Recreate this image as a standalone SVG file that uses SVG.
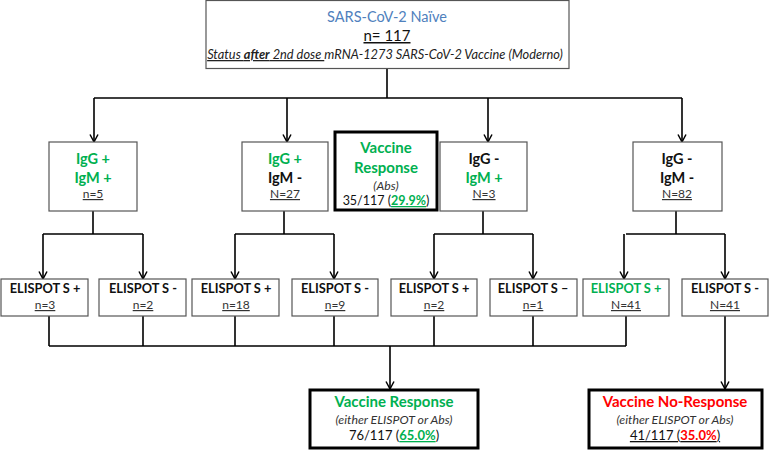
<svg xmlns="http://www.w3.org/2000/svg" width="777" height="450" viewBox="0 0 777 450">
<style>
text{font-family:Lato,"Carlito","Open Sans",sans-serif;text-anchor:middle;fill:#111}
.box{fill:#fff;stroke:#555;stroke-width:1.2}
.thick{fill:#fff;stroke:#000;stroke-width:3}
.con{fill:none;stroke:#000;stroke-width:1.6}
.t{font-size:14.5px;font-weight:bold}
.n{font-size:12px;text-decoration:underline;fill:#333}
.e{font-size:12.8px;font-weight:bold}
.g{fill:#00b050}
.r{fill:#ff0000}
.it{font-style:italic;font-size:12.3px;fill:#333}
</style>
<defs>
<marker id="ar" markerWidth="10" markerHeight="10" refX="8" refY="4.5" orient="auto" markerUnits="userSpaceOnUse">
<path d="M0.5,0.5 L8,4.5 L0.5,8.5" fill="none" stroke="#000" stroke-width="1.5"/>
</marker>
</defs>
<g id="connectors">
<path class="con" d="M387,68 V98 M94,98 H682"/>
<path class="con" marker-end="url(#ar)" d="M94,98 V142"/>
<path class="con" marker-end="url(#ar)" d="M287,98 V142"/>
<path class="con" marker-end="url(#ar)" d="M488,98 V142"/>
<path class="con" marker-end="url(#ar)" d="M682,98 V142"/>
<path class="con" d="M93,211 V234 M43,234 H143 M284,211 V234 M235,234 H334 M483,211 V234 M434,234 H533 M676,211 V234 M626,234 H725"/>
<path class="con" marker-end="url(#ar)" d="M43,234 V279"/>
<path class="con" marker-end="url(#ar)" d="M143,234 V279"/>
<path class="con" marker-end="url(#ar)" d="M235,234 V279"/>
<path class="con" marker-end="url(#ar)" d="M334,234 V279"/>
<path class="con" marker-end="url(#ar)" d="M434,234 V279"/>
<path class="con" marker-end="url(#ar)" d="M533,234 V279"/>
<path class="con" marker-end="url(#ar)" d="M624,234 V279"/>
<path class="con" marker-end="url(#ar)" d="M725,234 V279"/>
<path class="con" d="M49,316 V346 M143,316 V346 M235,316 V346 M334,316 V346 M434,316 V346 M533,316 V346 M626,316 V346 M49,346 H626"/>
<path class="con" marker-end="url(#ar)" d="M390,346 V389"/>
<path class="con" marker-end="url(#ar)" d="M725,316 V389"/>
</g>
<g id="top">
<rect class="box" x="206" y="0.5" width="363" height="68"/>
<text x="387" y="22" style="font-size:14.5px;fill:#4f81bd">SARS-CoV-2 Naïve</text>
<text x="387" y="41" style="font-size:15px;text-decoration:underline">n= 117</text>
<text x="385" y="59" style="font-size:12.8px;font-style:italic;fill:#222"><tspan text-decoration="underline">Status <tspan font-weight="bold">after</tspan> 2nd dose </tspan>mRNA-1273 SARS-CoV-2 Vaccine (Moderno)</text>
</g>
<g id="igg_pos_igm_pos">
<rect class="box" x="49" y="142" width="88" height="69"/>
<text class="t g" x="93" y="164">IgG +</text>
<text class="t g" x="93" y="183">IgM +</text>
<text class="n" x="93" y="198">n=5</text>
</g>
<g id="igg_pos_igm_neg">
<rect class="box" x="242" y="142" width="86" height="69"/>
<text class="t g" x="285" y="164">IgG +</text>
<text class="t" x="285" y="183">IgM -</text>
<text class="n" x="285" y="198">N=27</text>
</g>
<g id="vaccine_response_abs">
<rect class="thick" x="335" y="132" width="102" height="78"/>
<text class="g" x="386" y="153" style="font-size:15px;font-weight:bold">Vaccine</text>
<text class="g" x="386" y="173" style="font-size:15px;font-weight:bold">Response</text>
<text class="it" x="386" y="190">(<tspan>Abs</tspan>)</text>
<text x="386" y="205" style="font-size:12.5px">35/117 (<tspan class="g" font-weight="bold" text-decoration="underline">29.9%</tspan>)</text>
</g>
<g id="igg_neg_igm_pos">
<rect class="box" x="440" y="142" width="87" height="69"/>
<text class="t" x="484" y="164">IgG -</text>
<text class="t g" x="484" y="183">IgM +</text>
<text class="n" x="484" y="198">N=3</text>
</g>
<g id="igg_neg_igm_neg">
<rect class="box" x="633" y="142" width="89" height="69"/>
<text class="t" x="677" y="164">IgG -</text>
<text class="t" x="677" y="183">IgM -</text>
<text class="n" x="677" y="198">N=82</text>
</g>
<g id="e1"><rect class="box" x="1" y="279" width="87" height="37"/><text class="e" x="45" y="293">ELISPOT S +</text><text class="n" x="45" y="309">n=3</text></g>
<g id="e2"><rect class="box" x="99" y="279" width="87" height="37"/><text class="e" x="143" y="293">ELISPOT S -</text><text class="n" x="143" y="309">n=2</text></g>
<g id="e3"><rect class="box" x="192" y="279" width="87" height="37"/><text class="e" x="236" y="293">ELISPOT S +</text><text class="n" x="236" y="309">n=18</text></g>
<g id="e4"><rect class="box" x="292" y="279" width="86" height="37"/><text class="e" x="335" y="293">ELISPOT S -</text><text class="n" x="335" y="309">n=9</text></g>
<g id="e5"><rect class="box" x="391" y="279" width="86" height="37"/><text class="e" x="434" y="293">ELISPOT S +</text><text class="n" x="434" y="309">n=2</text></g>
<g id="e6"><rect class="box" x="490" y="279" width="87" height="37"/><text class="e" x="533" y="293">ELISPOT S –</text><text class="n" x="533" y="309">n=1</text></g>
<g id="e7"><rect class="box" x="583" y="279" width="86" height="37"/><text class="e g" x="626" y="293">ELISPOT S +</text><text class="n" x="626" y="309">N=41</text></g>
<g id="e8"><rect class="box" x="682" y="279" width="86" height="37"/><text class="e" x="725" y="293">ELISPOT S -</text><text class="n" x="725" y="309">N=41</text></g>
<g id="vaccine_response">
<rect class="thick" x="310" y="390" width="168" height="58"/>
<text class="g" x="394" y="407" style="font-size:15px;font-weight:bold">Vaccine Response</text>
<text class="it" x="394" y="424">(either ELISPOT or Abs)</text>
<text x="394" y="440" style="font-size:13px">76/117 (<tspan class="g" font-weight="bold" text-decoration="underline">65.0%</tspan>)</text>
</g>
<g id="vaccine_no_response">
<rect class="thick" x="589" y="390" width="173" height="58"/>
<text class="r" x="675" y="407" style="font-size:15px;font-weight:bold">Vaccine No-Response</text>
<text class="it" x="675" y="424">(either ELISPOT or Abs)</text>
<text x="675" y="440" style="font-size:13px;text-decoration:underline">41/117 (<tspan class="r" font-weight="bold">35.0%</tspan>)</text>
</g>
</svg>
